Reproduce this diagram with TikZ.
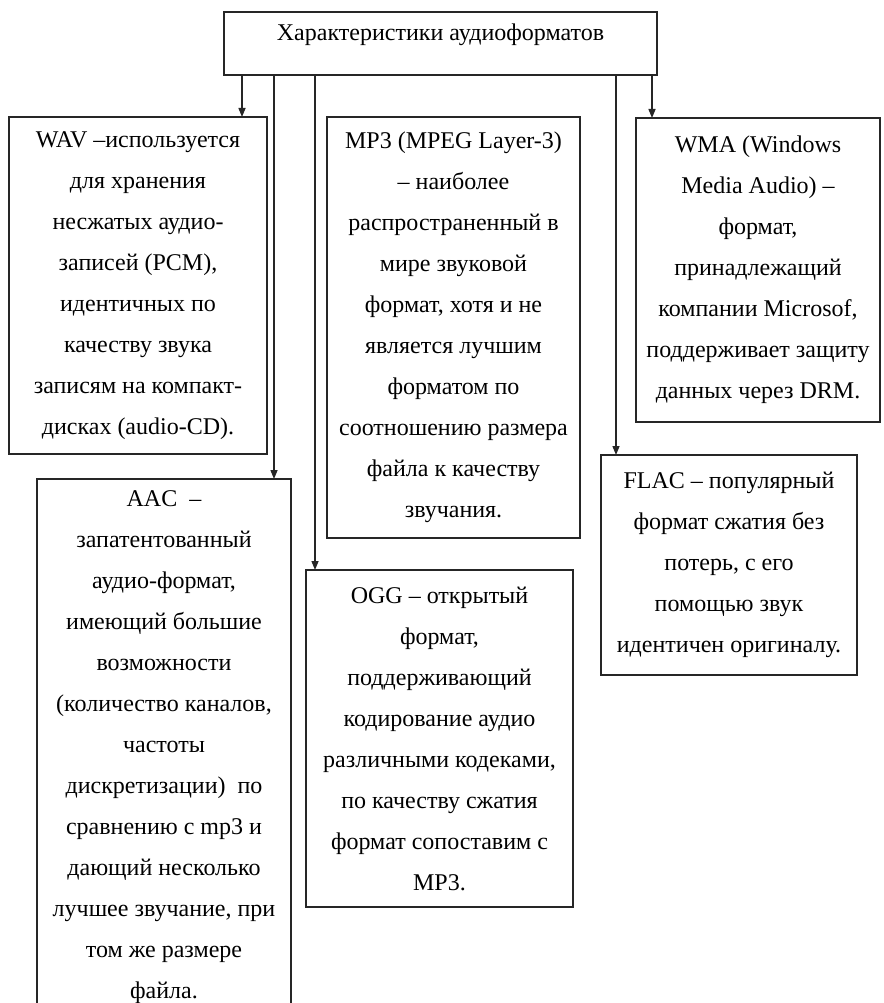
\documentclass[tikz,border=0pt]{standalone}
\usepackage{fontspec}
\setmainfont{Liberation Serif}
\usetikzlibrary{arrows.meta}
\begin{document}
\begin{tikzpicture}[x=1pt,y=-1pt,
  box/.style={draw=black!85, line width=1.4pt, inner sep=0pt, outer sep=0pt, align=center,
    anchor=north west, font=\fontsize{24}{41}\selectfont},
  arr/.style={draw=black!85, line width=1.4pt, -{Triangle[length=9pt,width=7pt]}}]
\useasboundingbox (0,0) rectangle (883,1003);
\clip (0,0) rectangle (883,1003);
\fill[white] (0,0) rectangle (883,1003);
\node[box, minimum width=433pt, minimum height=63pt, text height=29pt, text depth=34pt] (top) at (224,12) {Характеристики аудиоформатов};
\node[box, minimum width=258pt, minimum height=337pt] (wav) at (9,117) {WAV –используется\\для хранения\\несжатых аудио-\\записей (PCM),\\идентичных по\\качеству звука\\записям на компакт-\\дисках (audio-CD).};
\node[box, minimum width=254pt, minimum height=536pt] (aac) at (37,479) {AAC\ \ –\\запатентованный\\аудио-формат,\\имеющий большие\\возможности\\(количество каналов,\\частоты\\дискретизации)\ \ по\\сравнению с mp3 и\\дающий несколько\\лучшее звучание, при\\том же размере\\файла.};
\node[box, minimum width=253pt, minimum height=421pt] (mp3) at (327,117) {MP3 (MPEG Layer-3)\\– наиболее\\распространенный в\\мире звуковой\\формат, хотя и не\\является лучшим\\форматом по\\соотношению размера\\файла к качеству\\звучания.};
\node[box, minimum width=267pt, minimum height=337pt] (ogg) at (306,570) {OGG – открытый\\формат,\\поддерживающий\\кодирование аудио\\различными кодеками,\\по качеству сжатия\\формат сопоставим с\\MP3.};
\node[box, minimum width=244pt, minimum height=304pt] (wma) at (636,118) {WMA (Windows\\Media Audio) –\\формат,\\принадлежащий\\компании Microsof,\\поддерживает защиту\\данных через DRM.};
\node[box, minimum width=256pt, minimum height=220pt] (flac) at (601,455) {FLAC – популярный\\формат сжатия без\\потерь, с его\\помощью звук\\идентичен оригиналу.};
\coordinate (xwav) at (242,0);
\coordinate (xaac) at (274,0);
\coordinate (xogg) at (315,0);
\coordinate (xflac) at (616,0);
\coordinate (xwma) at (652,0);
\draw[arr] (top.south -| xwav) -- (wav.north -| xwav);
\draw[arr] (top.south -| xaac) -- (aac.north -| xaac);
\draw[arr] (top.south -| xogg) -- (ogg.north -| xogg);
\draw[arr] (top.south -| xflac) -- (flac.north -| xflac);
\draw[arr] (top.south -| xwma) -- (wma.north -| xwma);
\end{tikzpicture}
\end{document}
